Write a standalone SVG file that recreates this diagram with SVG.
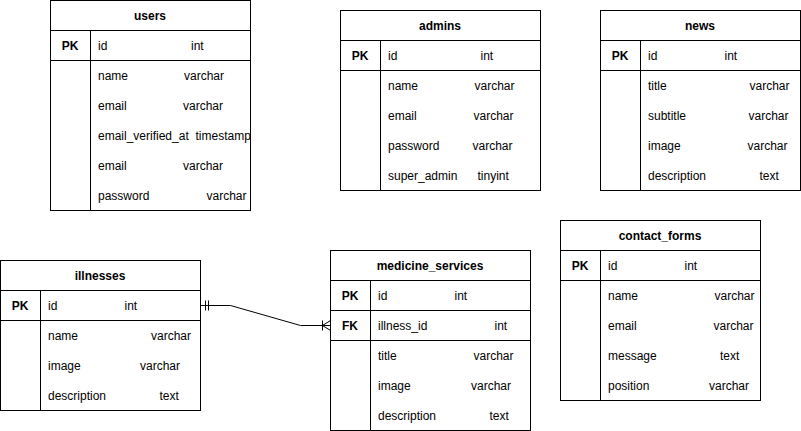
<svg xmlns="http://www.w3.org/2000/svg" width="801" height="431" viewBox="0 0 801 431">
<style>
rect{fill:#fff;stroke:#000;stroke-width:1}
line{stroke:#000;stroke-width:1}
text{font-family:"Liberation Sans",Arial,sans-serif;font-size:12px;fill:#000;dominant-baseline:central}
.h{font-weight:bold;text-anchor:middle}
.k{font-weight:bold;text-anchor:middle}
.c{fill:none;stroke:#000;stroke-width:1}
</style>
<rect x="0" y="0" width="801" height="431" style="stroke:none"/>

<g id="users" transform="translate(0,0.5)">
<rect x="50.5" y="0" width="200" height="210"/>
<line x1="50.5" y1="30" x2="250.5" y2="30"/>
<line x1="50.5" y1="60" x2="250.5" y2="60"/>
<line x1="90.5" y1="30" x2="90.5" y2="210"/>
<text class="h" x="150" y="15">users</text>
<text class="k" x="70" y="45">PK</text>
<text x="98" y="45">id</text><text x="191" y="45">int</text>
<text x="98" y="75">name</text><text x="184" y="75">varchar</text>
<text x="98" y="105">email</text><text x="183" y="105">varchar</text>
<text x="98" y="135">email_verified_at</text><text x="195.5" y="135">timestamp</text>
<text x="98" y="165">email</text><text x="183" y="165">varchar</text>
<text x="98" y="195">password</text><text x="206.5" y="195">varchar</text>
</g>

<g id="admins" transform="translate(0,0.5)">
<rect x="340.5" y="10" width="200" height="180"/>
<line x1="340.5" y1="40" x2="540.5" y2="40"/>
<line x1="340.5" y1="70" x2="540.5" y2="70"/>
<line x1="380.5" y1="40" x2="380.5" y2="190"/>
<text class="h" x="440" y="25">admins</text>
<text class="k" x="360" y="55">PK</text>
<text x="388" y="55">id</text><text x="480.5" y="55">int</text>
<text x="388" y="85">name</text><text x="474.5" y="85">varchar</text>
<text x="388" y="115">email</text><text x="473.5" y="115">varchar</text>
<text x="388" y="145">password</text><text x="472.5" y="145">varchar</text>
<text x="388" y="175">super_admin</text><text x="477.5" y="175">tinyint</text>
</g>

<g id="news" transform="translate(0,0.5)">
<rect x="600.5" y="10" width="200" height="180"/>
<line x1="600.5" y1="40" x2="800.5" y2="40"/>
<line x1="600.5" y1="70" x2="800.5" y2="70"/>
<line x1="640.5" y1="40" x2="640.5" y2="190"/>
<text class="h" x="700" y="25">news</text>
<text class="k" x="620" y="55">PK</text>
<text x="648" y="55">id</text><text x="724.5" y="55">int</text>
<text x="648" y="85">title</text><text x="749.5" y="85">varchar</text>
<text x="648" y="115">subtitle</text><text x="748.5" y="115">varchar</text>
<text x="648" y="145">image</text><text x="747.5" y="145">varchar</text>
<text x="648" y="175">description</text><text x="759.5" y="175">text</text>
</g>

<g id="illnesses" transform="translate(0,0.5)">
<rect x="0.5" y="260" width="200" height="150"/>
<line x1="0.5" y1="290" x2="200.5" y2="290"/>
<line x1="0.5" y1="320" x2="200.5" y2="320"/>
<line x1="40.5" y1="290" x2="40.5" y2="410"/>
<text class="h" x="100" y="275">illnesses</text>
<text class="k" x="20" y="305">PK</text>
<text x="48" y="305">id</text><text x="124.5" y="305">int</text>
<text x="48" y="335">name</text><text x="151" y="335">varchar</text>
<text x="48" y="365">image</text><text x="140" y="365">varchar</text>
<text x="48" y="395">description</text><text x="159.5" y="395">text</text>
</g>

<g id="medicine_services" transform="translate(0,0.5)">
<rect x="330.5" y="250" width="200" height="180"/>
<line x1="330.5" y1="280" x2="530.5" y2="280"/>
<line x1="330.5" y1="310" x2="530.5" y2="310"/>
<line x1="330.5" y1="340" x2="530.5" y2="340"/>
<line x1="370.5" y1="280" x2="370.5" y2="430"/>
<text class="h" x="430" y="265">medicine_services</text>
<text class="k" x="350" y="295">PK</text>
<text x="378" y="295">id</text><text x="454.5" y="295">int</text>
<text class="k" x="350" y="325">FK</text>
<text x="378" y="325">illness_id</text><text x="494.5" y="325">int</text>
<text x="378" y="355">title</text><text x="473.5" y="355">varchar</text>
<text x="378" y="385">image</text><text x="471" y="385">varchar</text>
<text x="378" y="415">description</text><text x="489.5" y="415">text</text>
</g>

<g id="contact_forms" transform="translate(0,0.5)">
<rect x="560.5" y="220" width="200" height="180"/>
<line x1="560.5" y1="250" x2="760.5" y2="250"/>
<line x1="560.5" y1="280" x2="760.5" y2="280"/>
<line x1="600.5" y1="250" x2="600.5" y2="400"/>
<text class="h" x="660" y="235">contact_forms</text>
<text class="k" x="580" y="265">PK</text>
<text x="608" y="265">id</text><text x="684.5" y="265">int</text>
<text x="608" y="295">name</text><text x="714.5" y="295">varchar</text>
<text x="608" y="325">email</text><text x="713.5" y="325">varchar</text>
<text x="608" y="355">message</text><text x="720" y="355">text</text>
<text x="608" y="385">position</text><text x="709" y="385">varchar</text>
</g>

<g id="connectors">
<path class="c" d="M200.5,305.5 H230.5 L300.5,325.5 H330.5"/>
<path class="c" d="M205.5,300.5 V310.5 M208.5,300.5 V310.5"/>
<path class="c" d="M322.5,320.5 V330.5 M330.5,320.5 L322.5,325.5 L330.5,330.5"/>
</g>
</svg>
